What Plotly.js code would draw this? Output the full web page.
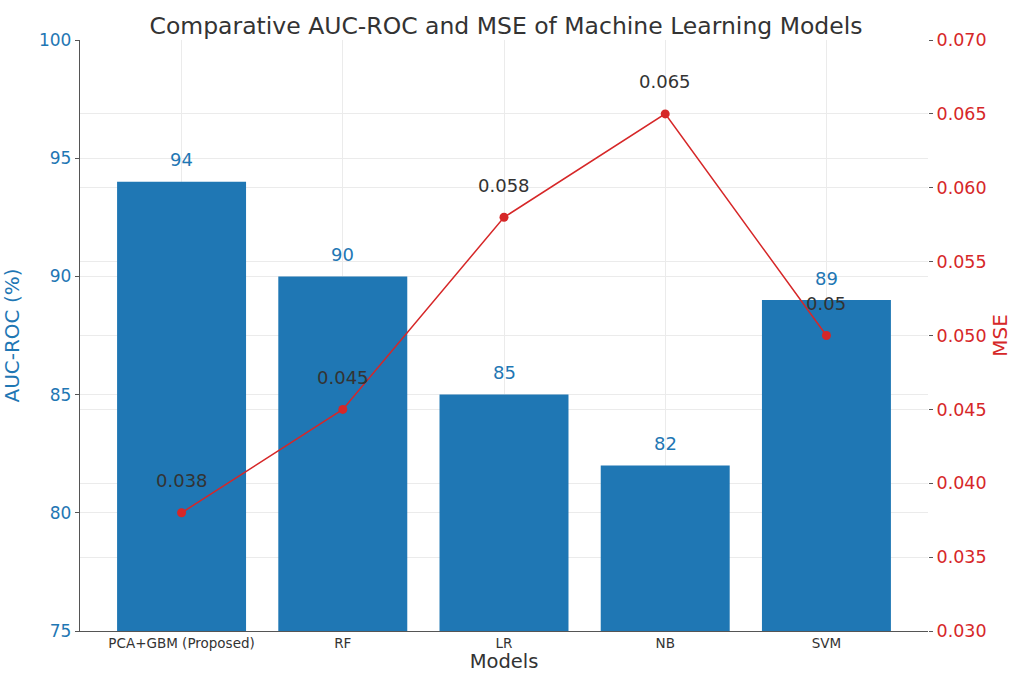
<!DOCTYPE html>
<html>
<head>
<meta charset="utf-8">
<script src="https://cdn.plot.ly/plotly-3.0.1.min.js"></script>
<style>html,body{margin:0;padding:0;background:#fff;}#chart{width:1012px;height:673px;}</style>
</head>
<body>
<div id="chart"></div>
<script>
const models = ["PCA+GBM (Proposed)", "RF", "LR", "NB", "SVM"];
const aucRoc = [94, 90, 85, 82, 89];
const mse = [0.038, 0.045, 0.058, 0.065, 0.05];
const mseLabels = ["0.038", "0.045", "0.058", "0.065", "0.05"];

const blue = "#1f77b4";
const red = "#d62728";
const font = "DejaVu Sans, sans-serif";

const traces = [
  {
    type: "bar", x: models, y: aucRoc, name: "AUC-ROC (%)",
    marker: {color: blue}, width: 0.8, yaxis: "y", hoverinfo: "x+y"
  },
  {
    type: "scatter", mode: "lines+markers", x: models, y: mse, name: "MSE",
    yaxis: "y2", line: {color: red, width: 1.5}, marker: {color: red, size: 9}
  }
];

const annotations = [];
models.forEach((m, i) => {
  annotations.push({x: m, y: aucRoc[i], xref: "x", yref: "y", text: String(aucRoc[i]),
    showarrow: false, yshift: 22, font: {family: font, size: 18, color: blue}});
  annotations.push({x: m, y: mse[i], xref: "x", yref: "y2", text: mseLabels[i],
    showarrow: false, yshift: 32, font: {family: font, size: 18, color: "#333333"}});
});

const layout = {
  width: 1012, height: 673,
  margin: {l: 80, r: 84, t: 40, b: 42},
  paper_bgcolor: "#ffffff", plot_bgcolor: "#ffffff",
  font: {family: font, color: "#333333"},
  showlegend: false,
  title: {text: "Comparative AUC-ROC and MSE of Machine Learning Models",
    font: {family: font, size: 23.5, color: "#333333"}, x: 0.5, xanchor: "center", y: 0.962, yanchor: "middle"},
  xaxis: {
    type: "category", range: [-0.63, 4.63],
    title: {text: "Models", font: {family: font, size: 19.5, color: "#333333"}, standoff: 5},
    tickfont: {family: font, size: 13.5, color: "#333333"},
    showgrid: true, gridcolor: "#ebebeb", gridwidth: 1,
    showline: true, linecolor: "#555555", linewidth: 1.2,
    ticks: "", ticklen: 0, zeroline: false
  },
  yaxis: {
    range: [75, 100], dtick: 5, tick0: 75,
    title: {text: "AUC-ROC (%)", font: {family: font, size: 20, color: blue}, standoff: 14},
    tickfont: {family: font, size: 17, color: blue},
    showgrid: true, gridcolor: "#ebebeb", gridwidth: 1,
    showline: true, linecolor: "#555555", linewidth: 1.2,
    ticks: "outside", ticklen: 4, tickcolor: "#555555", zeroline: false
  },
  yaxis2: {
    overlaying: "y", side: "right",
    range: [0.03, 0.07], dtick: 0.005, tick0: 0.03, tickformat: ".3f",
    title: {text: "MSE", font: {family: font, size: 20, color: red}, standoff: 10},
    tickfont: {family: font, size: 17.5, color: red},
    showgrid: true, gridcolor: "#ebebeb", gridwidth: 1,
    showline: false,
    ticks: "outside", ticklen: 4, tickcolor: "#555555", zeroline: false
  },
  annotations: annotations
};

Plotly.newPlot("chart", traces, layout, {displayModeBar: false, staticPlot: true});
</script>
</body>
</html>
